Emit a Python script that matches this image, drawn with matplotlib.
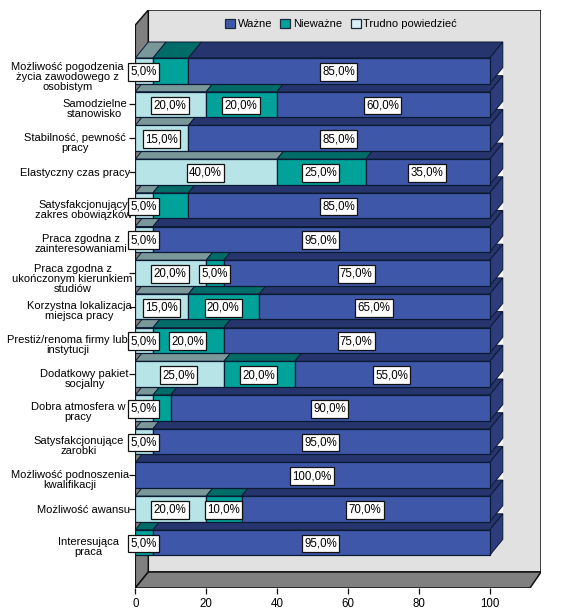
import matplotlib
matplotlib.use("Agg")
import matplotlib.pyplot as plt
from matplotlib.patches import Patch
from matplotlib.path import Path
from matplotlib.transforms import ScaledTranslation

plt.rcParams['font.family'] = ['Liberation Sans', 'DejaVu Sans']

categories = [
    "Możliwość pogodzenia\nżycia zawodowego z\nosobistym",
    "Samodzielne\nstanowisko",
    "Stabilność, pewność\npracy",
    "Elastyczny czas pracy",
    "Satysfakcjonujący\nzakres obowiązków",
    "Praca zgodna z\nzainteresowaniami",
    "Praca zgodna z\nukończonym kierunkiem\nstudiów",
    "Korzystna lokalizacja\nmiejsca pracy",
    "Prestiż/renoma firmy lub\ninstytucji",
    "Dodatkowy pakiet\nsocjalny",
    "Dobra atmosfera w\npracy",
    "Satysfakcjonujące\nzarobki",
    "Możliwość podnoszenia\nkwalifikacji",
    "Możliwość awansu",
    "Interesująca\npraca",
]
trudno = [5, 20, 15, 40, 5, 5, 20, 15, 5, 25, 5, 5, 0, 20, 0]
niewazne = [10, 20, 0, 25, 10, 0, 5, 20, 20, 20, 5, 0, 0, 10, 5]
wazne = [85, 60, 85, 35, 85, 95, 75, 65, 75, 55, 90, 95, 100, 70, 95]
# segments without a printed value label: (row, series)
hidden_labels = [(0, 1), (4, 1), (10, 1)]
series_names = ["Ważne", "Nieważne", "Trudno powiedzieć"]
xticks = [0, 20, 40, 60, 80, 100]

FRONT = ['#B6E4E7', '#00A29A', '#3F57A9']
TOP = ['#7A9799', '#006C67', '#27356F']
SIDE = '#2C3C7C'
EDGE = '#0B1A33'
LEG = ['#3F57A9', '#00A29A', '#D8F0F6']

W, H = 562, 613
fig = plt.figure(figsize=(W / 100, H / 100), dpi=100, facecolor='white')
L, R, T, B = 135.3, 541.0, 10.0, 588.0
ax = fig.add_axes([L / W, 1 - B / H, (R - L) / W, (B - T) / H])
PXX = 3.545
PXY = 33.7
ax.set_xlim(0, (R - L) / PXX)
ax.set_ylim((B - 70.75) / PXY, (T - 70.75) / PXY)
ax.patch.set_alpha(0)
for s in ax.spines.values():
    s.set_visible(False)

dx = 13 / PXX
dy = -16 / PXY
barh = 25.5 / PXY
x1 = (530 - L) / PXX
xb = x1 + (R - 530) / PXX
yf = ax.get_ylim()[0]
yb = yf + dy
yt = ax.get_ylim()[1]
# walls
ax.fill([dx, xb, xb, dx], [yb, yb, yt, yt], fc='#E1E1E1', ec='#111111', lw=1.1, zorder=1)
ax.fill([0, dx, dx, 0], [yf, yb, yt, yt - dy * 0.94], fc='#808080', ec='#111111', lw=1.1, zorder=1)
ax.fill([0, dx, xb, x1], [yf, yb, yb, yf], fc='#808080', ec='#111111', lw=1.1, zorder=1)

n = len(categories)
for i in range(n - 1, -1, -1):
    z = 10 + 2 * (n - i)
    left = 0
    top = i - barh / 2
    if i < n - 1:
        # pale notch between the side faces of neighbouring bars
        ax.fill([100 + dx, 100 + dx, 100 + dx - 6.5 / PXX],
                [top + dy + barh, top + 1 + dy, top + 1 + dy],
                fc='#F6F6F6', ec='none', zorder=5)
    for k, vals in enumerate([trudno, niewazne, wazne]):
        v = vals[i]
        if v == 0:
            continue
        ax.fill([left, left + v, left + v + dx, left + dx],
                [top, top, top + dy, top + dy],
                fc=TOP[k], ec=EDGE, lw=0.7, zorder=z)
        ax.barh(i, v, height=barh, left=left, color=FRONT[k],
                edgecolor=EDGE, linewidth=0.9, zorder=z + 1)
        left += v
    ax.fill([100, 100 + dx, 100 + dx, 100],
            [top, top + dy, top + dy + barh, top + barh],
            fc=SIDE, ec=EDGE, lw=0.7, zorder=z)


def label_box(x0, y0, width, height, mutation_size):
    px = 0.19 * mutation_size
    py = 0.25 * mutation_size
    a, b, c, d = x0 - px, y0 - py, x0 + width + px, y0 + height + py
    return Path([(a, b), (c, b), (c, d), (a, d), (a, b)], closed=True)


for i in range(n):
    left = 0
    for k, vals in enumerate([trudno, niewazne, wazne]):
        v = vals[i]
        if v and (i, k) not in hidden_labels:
            ax.text(left + v / 2 - 0.2, i + 0.03, f"{v},0%", ha='center', va='center',
                    fontsize=8.3, color='black', zorder=100,
                    bbox=dict(boxstyle=label_box, fc='white', ec='#111111', lw=0.9))
        left += v

ax.set_xticks(xticks)
ax.set_xticklabels([str(t) for t in xticks], fontsize=8.3)
ax.tick_params(axis='x', length=4.5, width=0.9, pad=2.5, color='#111111')
ax.set_yticks(range(n))
ax.set_yticklabels(categories, fontsize=8.0, multialignment='center', linespacing=1.0)
ax.tick_params(axis='y', length=4, width=0.9, pad=0, color='#111111')

right_edges = [124, 127, 126, 131, 132, 128, 133, 132, 128, 129, 126, 124, 129, 130, 119]
shift_v = {1: 0, 2: 3.5, 3: 5}
for lab, txt, re_ in zip(ax.get_yticklabels(), categories, right_edges):
    lines = txt.count('\n') + 1
    off = ScaledTranslation((re_ - 130) / 100, -shift_v[lines] / 100, fig.dpi_scale_trans)
    lab.set_transform(lab.get_transform() + off)

handles = [Patch(fc=LEG[i], ec='#1a2a3a', lw=0.9, label=series_names[i]) for i in range(3)]
ax.legend(handles=handles, loc='center', bbox_to_anchor=(341 / W, 1 - 24 / H),
          bbox_transform=fig.transFigure, ncol=3, frameon=False, fontsize=8.0,
          handlelength=0.9, handleheight=0.9, handletextpad=0.25, columnspacing=0.75,
          borderpad=0, borderaxespad=0).set_zorder(200)

fig.savefig('out.png', dpi=100)
